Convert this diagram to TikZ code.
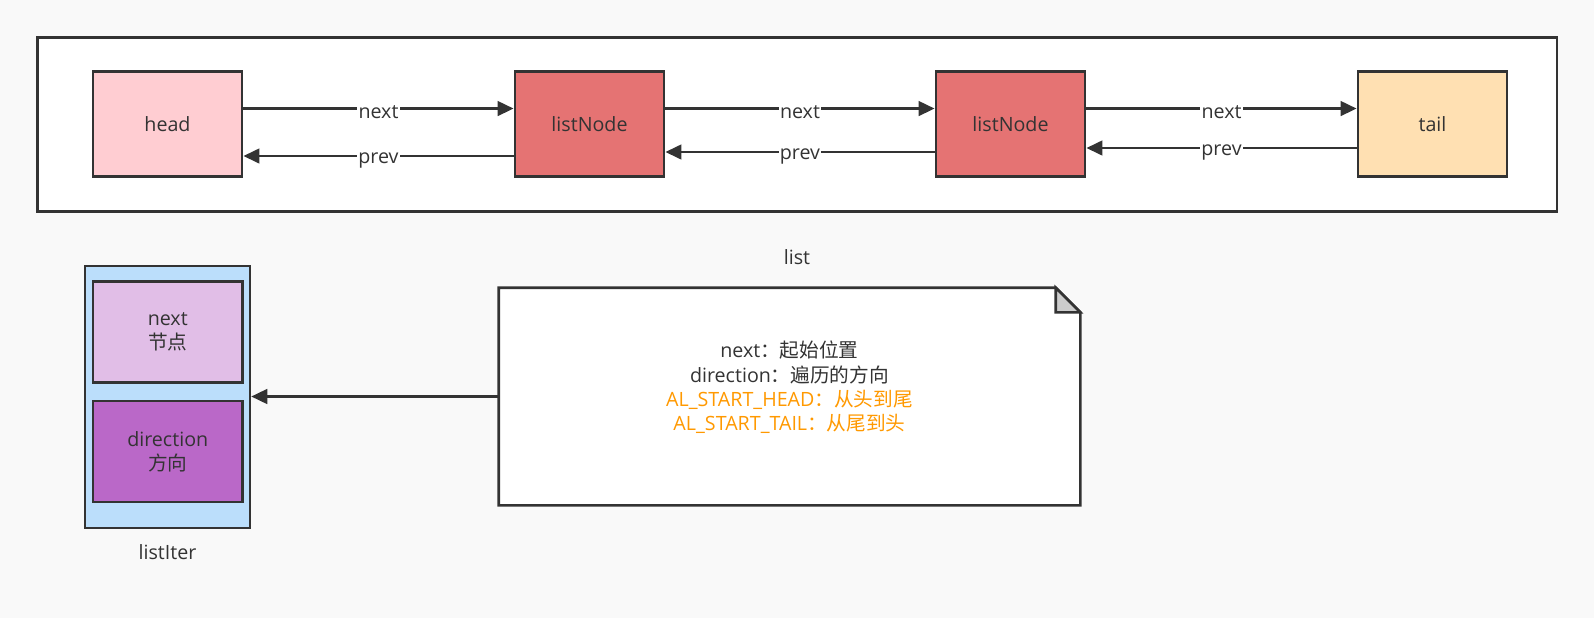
\documentclass[tikz,border=0pt]{standalone}
\usepackage{fontspec}
\setmainfont{Open Sans}
\newfontfamily\cjk{Noto Sans CJK SC}
\usetikzlibrary{arrows.meta,positioning}
\definecolor{ink}{HTML}{333333}
\definecolor{bg}{HTML}{F9F9F9}
\definecolor{headc}{HTML}{FFCDD2}
\definecolor{nodec}{HTML}{E57373}
\definecolor{tailc}{HTML}{FFE0B2}
\definecolor{iterc}{HTML}{BBDEFB}
\definecolor{nextc}{HTML}{E1BEE7}
\definecolor{dirc}{HTML}{BA68C8}
\definecolor{hint}{HTML}{FF9900}
\tikzset{
  txt/.style={text=ink,font=\fontsize{14.75}{18.25}\selectfont,align=center},
  box/.style={txt,draw=ink,line width=1.9pt,minimum width=112pt,minimum height=79pt},
  link/.style={draw=ink,line width=1.9pt,-{Triangle[length=12pt,width=11pt]}},
  lbl/.style={txt,fill=white,inner sep=1pt,yshift=-3pt}
}

\begin{document}
\begin{tikzpicture}[x=0.75pt,y=-0.75pt]
  \fill[bg] (0,0) rectangle (1594,618);
  \useasboundingbox (0,0) rectangle (1594,618);
  % list
  \node[box,fill=white,minimum width=1139.5pt,minimum height=130.5pt] (list) at (797.25,124.5) {};
  \node[txt] (listname) at (797,257) {list};
  \node[box,fill=headc] (head) at (167.5,124) {head};
  \node[box,fill=nodec] (n1) at (589.5,124) {listNode};
  \node[box,fill=nodec] (n2) at (1010.5,124) {listNode};
  \node[box,fill=tailc] (tail) at (1432.5,124) {tail};
  \draw[link] ([yshift=11.6pt]head.east) -- ([yshift=11.6pt]n1.west) node[lbl,midway] {next};
  \draw[link] ([yshift=11.6pt]n1.east) -- ([yshift=11.6pt]n2.west) node[lbl,midway] {next};
  \draw[link] ([yshift=11.6pt]n2.east) -- ([yshift=11.6pt]tail.west) node[lbl,midway] {next};
  \draw[link] ([yshift=-24pt]n1.west) -- ([yshift=-24pt]head.east) node[lbl,midway] {prev};
  \draw[link] ([yshift=-21pt]n2.west) -- ([yshift=-21pt]n1.east) node[lbl,midway] {prev};
  \draw[link] ([yshift=-18pt]tail.west) -- ([yshift=-18pt]n2.east) node[lbl,midway] {prev};
  % listIter
  \node[box,fill=iterc,minimum width=123.75pt,minimum height=196.5pt] (iter) at (167.5,397) {};
  \node[box,fill=nextc,minimum height=75.5pt] (inext) at (167.75,332) {next\\{\cjk 节点}};
  \node[box,fill=dirc,minimum height=75.5pt] (idir) at (167.75,451.5) {direction\\{\cjk 方向}};
  \node[txt] (itername) at (167.5,552) {listIter};
  % note
  \node[minimum width=435.75pt,minimum height=162.75pt] (note) at (789.5,396.5) {};
  \draw[draw=ink,line width=1.9pt,fill=white,line join=miter] (note.north west) -- ([xshift=-18.4pt]note.north east)
    -- ([yshift=-18.4pt]note.north east) -- (note.south east) -- (note.south west) -- cycle;
  \draw[draw=ink,line width=1.9pt,fill=ink!25,line join=miter] ([xshift=-18.4pt]note.north east)
    |- ([yshift=-18.4pt]note.north east) -- cycle;
  \node[txt] (notetext) at (789.5,387.5) {next{\cjk ：起始位置}\\direction{\cjk ：遍历的方向}\\
    \textcolor{hint}{AL\_START\_HEAD{\cjk ：从头到尾}}\\\textcolor{hint}{AL\_START\_TAIL{\cjk ：从尾到头}}};
  \draw[link] (note.west) -- (iter.east |- note.west);
\end{tikzpicture}
\end{document}
